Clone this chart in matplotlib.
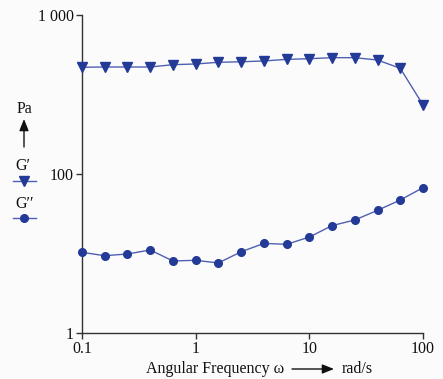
import numpy as np
import matplotlib
matplotlib.use("Agg")
import matplotlib.pyplot as plt
from matplotlib.ticker import FixedLocator, NullLocator
from matplotlib.lines import Line2D

# Data
freq = [0.1, 0.158, 0.251, 0.398, 0.631, 1.0, 1.58, 2.51, 3.98, 6.31,
        10.0, 15.8, 25.1, 39.8, 63.1, 100.0]
g_storage = [469, 471, 471, 471, 487, 492, 504, 508, 514, 526,
             531, 539, 539, 521, 462, 272]
g_loss = [10.35, 9.38, 9.86, 11.07, 8.05, 8.21, 7.6, 10.5, 13.4, 13.05,
          16.1, 22.4, 26.4, 34.9, 47.1, 67.3]
x_ticks = [0.1, 1, 10, 100]
x_ticklabels = ["0.1", "1", "10", "100"]
y_ticks = [1, 100, 1000]
y_ticklabels = ["1", "100", "1 000"]

plt.rcParams['font.family'] = ['Liberation Serif', 'DejaVu Serif']
BG = '#fbfbfb'
MK = '#233a96'
LN = '#4f60b2'
FS = 11.5


def fwd(y):
    l = np.log10(np.clip(np.asarray(y, dtype=float), 1e-9, None))
    return np.where(l <= 2, l / 2.0, l - 1.0)


def inv(t):
    t = np.asarray(t, dtype=float)
    return np.where(t <= 1, 10 ** (2 * t), 10 ** (t + 1))


fig = plt.figure(figsize=(4.43, 3.79), dpi=100, facecolor=BG)
ax = fig.add_axes([82 / 443, 1 - 333 / 379, (423 - 82) / 443, (333 - 15) / 379])
ax.set_facecolor(BG)
ax.set_xscale('log')
ax.set_yscale('function', functions=(fwd, inv))
ax.set_xlim(0.1, 100)
ax.set_ylim(1, 1000)

ax.plot(freq, g_storage, color=LN, lw=1.0, marker='v', ms=7.5,
        mfc=MK, mec=MK, clip_on=False, zorder=3)
ax.plot(freq, g_loss, color=LN, lw=1.0, marker='o', ms=5.5,
        mfc=MK, mec=MK, clip_on=False, zorder=3)

ax.xaxis.set_major_locator(FixedLocator(x_ticks))
ax.xaxis.set_minor_locator(NullLocator())
ax.set_xticklabels(x_ticklabels)
ax.yaxis.set_major_locator(FixedLocator(y_ticks))
ax.yaxis.set_minor_locator(NullLocator())
ax.set_yticklabels(y_ticklabels)

for s in ['top', 'right']:
    ax.spines[s].set_visible(False)
for s in ['left', 'bottom']:
    ax.spines[s].set_color('#333333')
    ax.spines[s].set_linewidth(1.0)
ax.tick_params(axis='both', which='major', direction='out', length=4,
               width=1, color='#333333', labelsize=FS, pad=2,
               labelcolor='#111111')

# x label with arrow
fig.text(146 / 443, 1 - 369 / 379, "Angular Frequency ω", fontsize=FS,
         ha='left', va='center', color='#111111')
fig.add_artist(matplotlib.patches.FancyArrowPatch(
    (292 / 443, 1 - 369 / 379), (334 / 443, 1 - 369 / 379),
    transform=fig.transFigure, arrowstyle='-|>,head_length=7,head_width=2.8',
    color='#111111', lw=1.0, mutation_scale=1, shrinkA=0, shrinkB=0))
fig.text(342 / 443, 1 - 369 / 379, "rad/s", fontsize=FS,
         ha='left', va='center', color='#111111')

# y unit label with arrow
fig.text(24 / 443, 1 - 109 / 379, "Pa", fontsize=FS, ha='center',
         va='center', color='#111111')
fig.add_artist(matplotlib.patches.FancyArrowPatch(
    (24 / 443, 1 - 147 / 379), (24 / 443, 1 - 119 / 379),
    transform=fig.transFigure, arrowstyle='-|>,head_length=7,head_width=2.8',
    color='#111111', lw=1.0, mutation_scale=1, shrinkA=0, shrinkB=0))

# legend entries
fig.text(23 / 443, 1 - 166 / 379, "G′", fontsize=FS, ha='center',
         va='center', color='#111111')
fig.add_artist(Line2D([13 / 443, 36 / 443], [1 - 181 / 379] * 2,
                      transform=fig.transFigure, color=LN, lw=1.0))
fig.add_artist(Line2D([24 / 443], [1 - 181 / 379], transform=fig.transFigure,
                      marker='v', ms=7.5, mfc=MK, mec=MK, ls='none'))
fig.text(25 / 443, 1 - 204 / 379, "G′′", fontsize=FS, ha='center',
         va='center', color='#111111')
fig.add_artist(Line2D([13 / 443, 36 / 443], [1 - 218 / 379] * 2,
                      transform=fig.transFigure, color=LN, lw=1.0))
fig.add_artist(Line2D([24 / 443], [1 - 218 / 379], transform=fig.transFigure,
                      marker='o', ms=5.5, mfc=MK, mec=MK, ls='none'))

fig.savefig('out.png', dpi=100, facecolor=BG)
